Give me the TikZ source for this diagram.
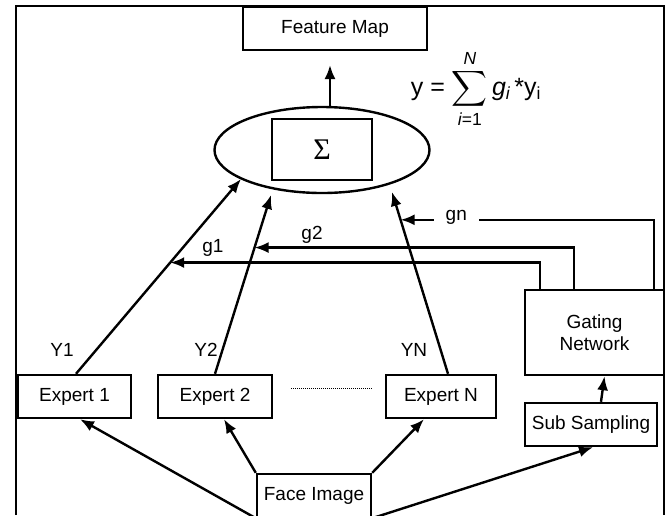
\documentclass[tikz,border=0pt]{standalone}
\usepackage{amsmath}
\usepackage{fontspec}
\setmainfont{Liberation Sans}
\newfontfamily\serifgr{Liberation Serif}
\usetikzlibrary{shapes.geometric,arrows.meta,calc}
\begin{document}
\begin{tikzpicture}[x=1pt,y=-1pt,line width=2.4pt,
    box/.style={draw,inner sep=0pt,minimum height=43pt,font=\fontsize{19}{22}\selectfont},
    lbl/.style={font=\fontsize{19}{22}\selectfont,inner sep=1pt},
    arr/.style={-{Latex[length=14pt,width=11pt]}}]
\useasboundingbox (0,0) rectangle (672,515);
\draw (16,515) -- (16,6) -- (664,6) -- (664,515);
\node[box,minimum width=184pt] (fmap) at (335,28.5) {Feature Map};
\node[draw,ellipse,minimum width=215pt,minimum height=86pt,inner sep=0pt] (sum) at (322,150) {};
\node[box,minimum width=100pt,minimum height=61pt,font=\fontsize{30}{30}\serifgr] (sig) at (322,149.5) {Σ};
\node[font=\fontsize{25}{28}\selectfont] (frm) at (476,89)
    {y = $\displaystyle\sum_{\textit{i}\text{=1}}^{\textit{N}}$\,\textit{g}$_{\textit{i}}$\,*y$_{\text{i}}$};
\node[box,minimum width=113pt] (e1) at (74.5,396.5) {Expert 1};
\node[box,minimum width=114pt] (e2) at (215,396.5) {Expert 2};
\node[box,minimum width=110pt] (en) at (441,396.5) {Expert N};
\node[box,minimum width=114pt] (face) at (314,495.5) {Face Image};
\node[box,minimum width=139pt,minimum height=85pt,align=center] (gate) at (594.5,332.5) {Gating\\Network};
\node[box,minimum width=132pt] (subs) at (591,424.5) {Sub Sampling};
\node[lbl] (ly1) at (62,350) {Y1};
\node[lbl] (ly2) at (206,350) {Y2};
\node[lbl] (lyn) at (414,350) {YN};
\node[lbl] (lg1) at (213,248) {g1};
\node[lbl] (lg2) at (312,235) {g2};
\coordinate (fmtip) at (330,65);
\coordinate (t1) at (241,179);
\coordinate (t2) at (271,195);
\coordinate (tn) at (392,192);
\coordinate (h1) at ($([xshift=1.5pt]e1.north)!0.571!(t1)$);
\coordinate (h2) at ($(e2.north)!0.706!(t2)$);
\coordinate (hn) at ($([xshift=7pt]en.north)!0.847!(tn)$);
\draw[arr] ([xshift=8pt]sum.north) -- (fmtip);
\draw[arr] ([xshift=1.5pt]e1.north) -- (t1);
\draw[arr] (e2.north) -- (t2);
\draw[arr] ([xshift=7pt]en.north) -- (tn);
\draw[arr] ([xshift=16pt]gate.north west) |- (h1);
\draw[arr] ([xshift=50pt]gate.north west) |- (h2);
\draw[arr] ([xshift=130pt]gate.north west) |- (hn)
    node[lbl,pos=0.89,fill=white,inner xsep=12pt,yshift=2pt] (lgn) {gn};
\draw[arr] ([xshift=10pt]subs.north) -- ([xshift=10pt]gate.south);
\draw[arr] (face.south west) -- ([xshift=5.5pt]e1.south);
\draw[arr] (face.north west) -- ([xshift=9pt]e2.south);
\draw[arr] (face.north east) -- ([xshift=-17pt]en.south);
\draw[arr] (face.south east) -- ([xshift=2pt]subs.south);
\draw[densely dotted,line width=1pt] ([xshift=18pt,yshift=8pt]e2.east) -- ([xshift=-13pt,yshift=8pt]en.west);
\end{tikzpicture}
\end{document}
